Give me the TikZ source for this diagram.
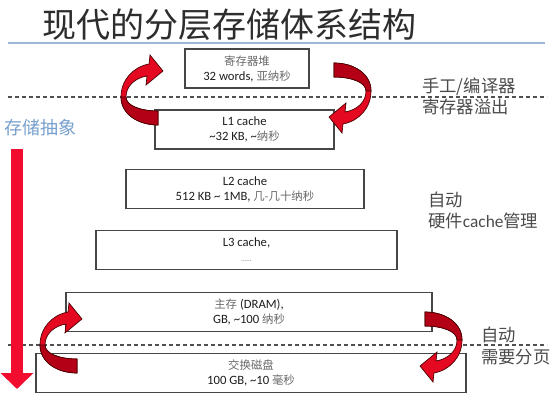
\documentclass[tikz,border=0pt]{standalone}
\usepackage{fontspec}
\setmainfont{Carlito}
\newfontfamily\zhfont{Noto Sans CJK SC}
\newfontfamily\zhsmall[Scale=0.9]{Noto Sans CJK SC}
\usetikzlibrary{arrows.meta}
\definecolor{boxgray}{RGB}{70,70,70}
\definecolor{boxtext}{RGB}{30,30,30}
\definecolor{zhgray}{RGB}{105,105,105}
\definecolor{labelgray}{RGB}{75,75,75}
\definecolor{titlegray}{RGB}{45,45,45}
\definecolor{sepblue}{RGB}{155,182,214}
\definecolor{absblue}{RGB}{120,160,205}
\definecolor{arrowred}{RGB}{228,8,32}
\definecolor{arrowdark}{RGB}{180,0,22}
\definecolor{arrowline}{RGB}{70,0,0}
\definecolor{bigred}{RGB}{242,12,45}
\definecolor{dashgray}{RGB}{80,80,80}
\newcommand{\zh}[1]{{\zhsmall\color{zhgray}#1}}
\tikzset{
  membox/.style={draw=boxgray, line width=1.1pt, fill=white, inner sep=0pt,
    align=center, text=boxtext, minimum height=29pt,
    font=\fontsize{9.5pt}{11.25pt}\selectfont},
  sidelabel/.style={anchor=west, inner sep=0pt, text=labelgray,
    font=\zhfont\fontsize{13pt}{15pt}\selectfont},
  sepdash/.style={dashgray, line width=1.1pt, dash pattern=on 3pt off 2.25pt},
  carrow/.pic={
    \filldraw[fill=arrowred, draw=arrowline, line width=0.5pt]
      (37,28) .. controls (17,28) and (0,17) .. (0,0)
      .. controls (0,-17) and (12,-30) .. (28,-33)
      -- (29,-42) -- (42,-26) -- (25,-12) -- (26,-21)
      .. controls (14,-19) and (5,-11) .. (5,0)
      .. controls (5,9) and (20,14) .. (37,14) -- cycle;
    \filldraw[fill=arrowdark, draw=arrowline, line width=0.5pt]
      (0,0) .. controls (0,17) and (17,28) .. (37,28)
      -- (37,14) .. controls (20,14) and (5,9) .. (5,0) -- cycle;
  }
}
\begin{document}
\begin{tikzpicture}[x=0.75pt, y=-0.75pt]
\fill[white] (0,0) rectangle (559,402);
\useasboundingbox (0,0) rectangle (559,402);

% title and separator
\node[text=titlegray, inner sep=0pt, font=\zhfont\fontsize{25.5pt}{30pt}\selectfont]
  (title) at (229,25) {现代的分层存储体系结构};
\coordinate (sepL) at (8,43);
\coordinate (sepR) at (545,43);
\draw[sepblue, line width=1.2pt] (sepL) -- (sepR);

% dashed lines
\coordinate (d1L) at (8,97);
\coordinate (d1R) at (547,97);
\coordinate (d2L) at (8,345);
\coordinate (d2R) at (547,345);
\draw[sepdash] (d1L) -- (d1R);
\draw[sepdash] (d2L) -- (d2R);

% boxes
\node[membox, minimum width=93pt] (reg) at (247,68.5)
  {\zh{寄存器堆}\\32 words, \zh{亚纳秒}};
\node[membox, minimum width=134.25pt] (l1) at (244.5,129.5)
  {L1 cache\\\textasciitilde32 KB, \textasciitilde\zh{纳秒}};
\node[membox, minimum width=178.5pt] (l2) at (245,189)
  {L2 cache\\512 KB \textasciitilde{} 1MB, \zh{几-几十纳秒}};
\node[membox, minimum width=225.75pt] (l3) at (246.5,250)
  {L3 cache,\\{\color{zhgray}\fontsize{5pt}{6pt}\selectfont ......}};
\node[membox, minimum width=274.5pt] (dram) at (249,312)
  {\zh{主存} (DRAM),\\GB, \textasciitilde100 \zh{纳秒}};
\node[membox, minimum width=322.5pt] (disk) at (251,373)
  {\zh{交换磁盘}\\100 GB, \textasciitilde10 \zh{毫秒}};

% curved arrows
\pic (ctl) at (121,97) {carrow};
\pic (cbl) at (40,345) {carrow};
\pic[rotate=180] (ctr) at (371,91) {carrow};
\pic[rotate=180] (cbr) at (462,340) {carrow};

% abstraction arrow
\node[anchor=west, inner sep=0pt, text=absblue,
  font=\zhfont\fontsize{13.5pt}{15pt}\selectfont] (abs) at (4,128) {存储抽象};
\coordinate (absTop) at (17,149);
\coordinate (absBot) at (17,389);
\draw[bigred, line width=9pt, -{Triangle[width=24pt,length=12pt]}] (absTop) -- (absBot);

% side labels
\node[sidelabel] (s1a) at (422,87) {手工/编译器};
\node[sidelabel] (s1b) at (422,107) {寄存器溢出};
\node[sidelabel] (s2a) at (428,200) {自动};
\node[sidelabel] (s2b) at (428,221) {硬件{\fontspec{Carlito}cache}管理};
\node[sidelabel] (s3a) at (481,335) {自动};
\node[sidelabel] (s3b) at (481,357) {需要分页};
\end{tikzpicture}
\end{document}
